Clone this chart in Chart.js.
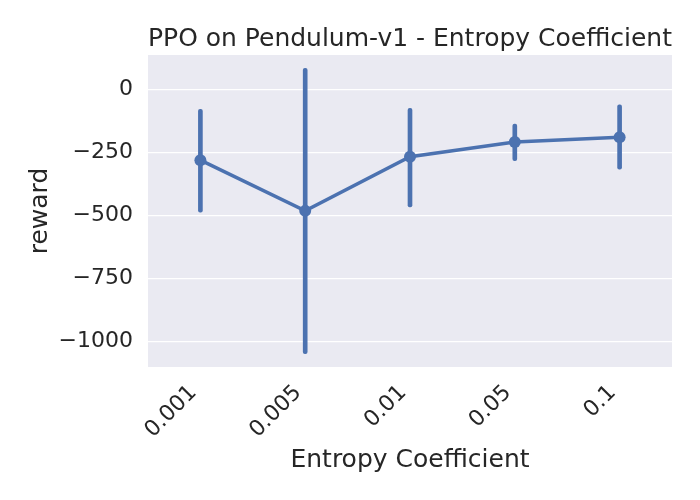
<!DOCTYPE html>
<html>
<head>
<meta charset="utf-8">
<script src="https://cdn.jsdelivr.net/npm/chart.js@4"></script>
<style>
  body { margin: 0; background: #fff; }
</style>
</head>
<body>
<canvas id="entropyChart" width="700" height="500"></canvas>
<script>
// values
const categories = ['0.001', '0.005', '0.01', '0.05', '0.1'];
const meanReward = [-281, -482, -267, -209, -190];
const ciLow = [-487, -1048, -466, -283, -317];
const ciHigh = [-79, 83, -75, -138, -62];
const yTicks = [-1000, -750, -500, -250, 0];

const blue = '#4c72b0';
const textColor = '#262626';

// grey plot background like seaborn darkgrid
const plotBg = {
    id: 'plotBg',
    beforeDraw(chart) {
        const a = chart.chartArea;
        const c = chart.ctx;
        c.save();
        c.fillStyle = '#eaeaf2';
        c.fillRect(a.left, a.top, a.right - a.left, a.bottom - a.top);
        c.restore();
    }
};

new Chart(document.getElementById('entropyChart').getContext('2d'), {
    data: {
        labels: categories,
        datasets: [
            {
                type: 'line',
                label: 'reward',
                data: meanReward,
                borderColor: blue,
                backgroundColor: blue,
                borderWidth: 3.5,
                pointRadius: 6,
                pointBackgroundColor: blue,
                pointBorderWidth: 0,
                tension: 0,
                order: 0
            },
            {
                type: 'bar',
                label: 'ci',
                data: ciLow.map((lo, i) => [lo, ciHigh[i]]), // error bars as floating bars
                backgroundColor: blue,
                barThickness: 4,
                borderRadius: 2,
                borderSkipped: false,
                order: 1
            }
        ]
    },
    options: {
        responsive: false,
        animation: false,
        layout: { padding: { left: 0, right: 28, top: 0, bottom: 0 } },
        plugins: {
            legend: { display: false },
            tooltip: { enabled: false },
            title: {
                display: true,
                text: 'PPO on Pendulum-v1 - Entropy Coefficient',
                fullSize: false,
                color: textColor,
                font: { family: 'DejaVu Sans', size: 25, weight: 'normal', lineHeight: 1.2 },
                padding: { top: 24, bottom: 1 }
            }
        },
        scales: {
            x: {
                type: 'category',
                offset: true,
                grid: { display: false, drawTicks: false },
                border: { display: false },
                ticks: {
                    color: textColor,
                    font: { family: 'DejaVu Sans', size: 22 },
                    minRotation: 45,
                    maxRotation: 45,
                    padding: 13,
                    labelOffset: -7
                },
                title: {
                    display: true,
                    text: 'Entropy Coefficient',
                    color: textColor,
                    font: { family: 'DejaVu Sans', size: 25, lineHeight: 1.2 },
                    padding: { top: 0, bottom: 25 }
                },
                afterFit(scale) { scale.height = 133; }
            },
            y: {
                min: -1101,
                max: 136,
                grid: { color: '#ffffff', lineWidth: 1.3, drawTicks: false },
                border: { display: false },
                afterBuildTicks(scale) {
                    scale.ticks = yTicks.map(v => ({ value: v }));
                },
                ticks: {
                    color: textColor,
                    font: { family: 'DejaVu Sans', size: 22 },
                    padding: 15,
                    callback: v => String(v).replace('-', '\u2212')
                },
                title: {
                    display: true,
                    text: 'reward',
                    color: textColor,
                    font: { family: 'DejaVu Sans', size: 25, lineHeight: 1.2 },
                    padding: { top: 25, bottom: 0 }
                },
                afterFit(scale) { scale.width = 148; }
            }
        }
    },
    plugins: [plotBg]
});
</script>
</body>
</html>
